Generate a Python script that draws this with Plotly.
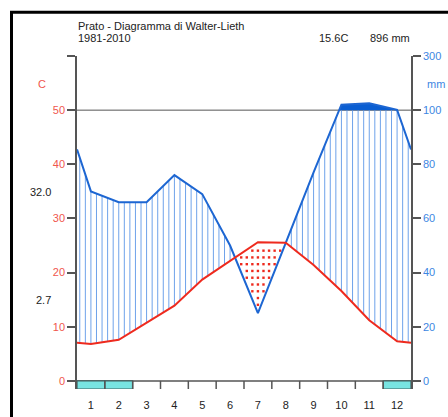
import numpy as np
import plotly.graph_objects as go

# ---- data ----
months = list(range(1, 13))
month_labels = [str(m) for m in months]
temp = [6.8, 7.6, 10.7, 13.9, 18.7, 22.1, 25.6, 25.5, 21.4, 16.6, 11.2, 7.3]
prec = [70, 66, 66, 76, 69, 50, 25, 51, 77, 120, 125, 101]
frost = [1, 1, 0, 0, 0, 0, 0, 0, 0, 0, 0, 1]
station = "Prato - Diagramma di Walter-Lieth"
period = "1981-2010"
t_max_warm = "32.0"
t_min_cold = "2.7"
left_ticks = [0, 10, 20, 30, 40, 50, 60]
left_labels = ["0", "10", "20", "30", "40", "50", ""]
right_labels = ["0", "20", "40", "60", "80", "100", "300"]

# ---- layout geometry (pixels) ----
W, H = 448, 417
L, R, T, B = 77, 411, 56, 389
YMIN, YMAX = -1.5, 60


def px(x):
    return (x - L) / (R - L)


def py(y):
    return (B - y) / (B - T)


def scale_p(p):
    p = np.asarray(p, dtype=float)
    return np.where(p <= 100, p / 2.0, 50 + (p - 100) / 20.0)


mean_t = np.mean(temp)
sum_p = np.sum(prec)

xe = np.array([0.5] + months + [12.5], dtype=float)
t_end = (temp[0] + temp[-1]) / 2
p_end = (prec[0] + prec[-1]) / 2
te = np.array([t_end] + temp + [t_end])
pe = scale_p([p_end] + prec + [p_end])

RED = "#ee2a1e"
RED_TXT = "#f0564e"
BLUE = "#1d66d2"
BLUE_TXT = "#3d86e2"
HATCH = "#6ea2ea"
GRAY = "#555555"
FONT = "Liberation Sans, Arial, sans-serif"

fig = go.Figure()

# hatch lines (humid)
grid_x = 0.6 + 0.2 * np.arange(60)
hx, hy = [], []
for x in grid_x:
    tv = np.interp(x, xe, te)
    pv = np.interp(x, xe, pe)
    if pv > tv:
        hx += [x, x, None]
        hy += [tv, min(pv, 50), None]
fig.add_trace(go.Scatter(x=hx, y=hy, mode="lines", line=dict(color=HATCH, width=1),
                         hoverinfo="skip", showlegend=False))

# solid fill above 100 mm
fx, fy = [], []
for i in range(len(xe) - 1):
    x0, x1, y0, y1 = xe[i], xe[i + 1], pe[i], pe[i + 1]
    fx.append(x0); fy.append(max(y0, 50))
    if (y0 - 50) * (y1 - 50) < 0:
        xc = x0 + (50 - y0) / (y1 - y0) * (x1 - x0)
        fx.append(xc); fy.append(50)
fx.append(xe[-1]); fy.append(max(pe[-1], 50))
fig.add_trace(go.Scatter(x=fx, y=[50] * len(fx), mode="lines", line=dict(width=0),
                         hoverinfo="skip", showlegend=False))
fig.add_trace(go.Scatter(x=fx, y=fy, mode="lines", line=dict(width=0), fill="tonexty",
                         fillcolor="#0a5ed2", hoverinfo="skip", showlegend=False))

# red dots (arid)
dx, dy = [], []
rows = 0.3 + 1.25 * np.arange(48)
for x in grid_x:
    tv = np.interp(x, xe, te)
    pv = np.interp(x, xe, pe)
    for yv in rows:
        if pv + 0.4 < yv < tv - 0.6:
            dx.append(x); dy.append(yv)
fig.add_trace(go.Scatter(x=dx, y=dy, mode="markers",
                         marker=dict(color=RED, size=2.4, symbol="square", line=dict(width=0)),
                         hoverinfo="skip", showlegend=False))

# precipitation and temperature curves
fig.add_trace(go.Scatter(x=xe, y=pe, mode="lines", line=dict(color=BLUE, width=2),
                         hoverinfo="skip", showlegend=False))
fig.add_trace(go.Scatter(x=xe, y=te, mode="lines", line=dict(color=RED, width=2),
                         hoverinfo="skip", showlegend=False))
# dummy for right axis
fig.add_trace(go.Scatter(x=[None], y=[None], yaxis="y2", showlegend=False))

shapes = []
# 100 mm line
shapes.append(dict(type="line", xref="x", yref="y", x0=0.5, x1=12.5, y0=50, y1=50,
                   line=dict(color=GRAY, width=1), layer="below"))
# x axis line
shapes.append(dict(type="line", xref="x", yref="y", x0=0.5, x1=12.5, y0=0, y1=0,
                   line=dict(color=GRAY, width=1.5)))
# frost boxes
for m, f in zip(months, frost):
    if f:
        shapes.append(dict(type="rect", xref="x", yref="y", x0=m - 0.5, x1=m + 0.5,
                           y0=YMIN, y1=0, fillcolor="#78e4e2",
                           line=dict(color="#3f5e5e", width=1.2)))
# month boundary ticks
for m in months[:-1]:
    shapes.append(dict(type="line", xref="x", yref="y", x0=m + 0.5, x1=m + 0.5,
                       y0=YMIN, y1=0, line=dict(color=GRAY, width=1.5)))
# outer black frame
shapes.append(dict(type="rect", xref="paper", yref="paper",
                   x0=px(11.5), x1=px(470), y0=py(440), y1=py(12.3),
                   line=dict(color="black", width=3), fillcolor="rgba(0,0,0,0)"))

annotations = []


def txt(s, x, y, anchor="left", color="#222222", size=11):
    annotations.append(dict(text=s, x=px(x), y=py(y), xref="paper", yref="paper",
                            xanchor=anchor, yanchor="middle", showarrow=False,
                            borderpad=0,
                            font=dict(family=FONT, size=size, color=color)))


txt(station, 76.5, 26)
txt(period, 76.5, 38)
txt(f"{mean_t:.1f}C", 348.5, 38, anchor="right")
txt(f"{sum_p:.0f} mm", 410.5, 38, anchor="right")
txt("C", 42, 84, anchor="center", color=RED_TXT)
txt("mm", 446, 84, anchor="right", color=BLUE_TXT)
txt(t_max_warm, 51.5, 192, anchor="right")
txt(t_min_cold, 51.5, 300, anchor="right")

fig.update_layout(
    width=W, height=H, autosize=False,
    margin=dict(l=L, r=W - R, t=T, b=H - B, pad=0),
    paper_bgcolor="white", plot_bgcolor="white",
    font=dict(family=FONT, size=11, color="#222222"),
    showlegend=False,
    xaxis=dict(range=[0.5, 12.5], tickvals=months, ticktext=month_labels,
               ticks="outside", ticklen=6, tickcolor="rgba(0,0,0,0)",
               showgrid=False, zeroline=False, showline=False, automargin=False,
               tickfont=dict(size=11, color="#222222"), fixedrange=True),
    yaxis=dict(range=[YMIN, YMAX], tickvals=left_ticks, ticktext=left_labels,
               ticks="outside", ticklen=8, tickcolor=GRAY, tickwidth=1.5,
               showline=True, linecolor=GRAY, linewidth=1.5, automargin=False,
               showgrid=False, zeroline=False,
               tickfont=dict(size=11, color=RED_TXT)),
    yaxis2=dict(range=[YMIN, YMAX], overlaying="y", side="right", anchor="x",
                tickvals=left_ticks, ticktext=right_labels, automargin=False,
                ticks="outside", ticklen=8, tickcolor=GRAY, tickwidth=1.5,
                showline=True, linecolor=GRAY, linewidth=1.5,
                showgrid=False, zeroline=False,
                tickfont=dict(size=11, color=BLUE_TXT)),
    shapes=shapes,
    annotations=annotations,
)

fig.write_html(
    "out.html",
    config={"displayModeBar": False, "responsive": False},
    post_script=(
        "document.documentElement.style.margin='0';"
        "document.body.style.margin='0';"
        "document.documentElement.style.overflow='hidden';"
        "document.body.style.overflow='hidden';"
    ),
)
